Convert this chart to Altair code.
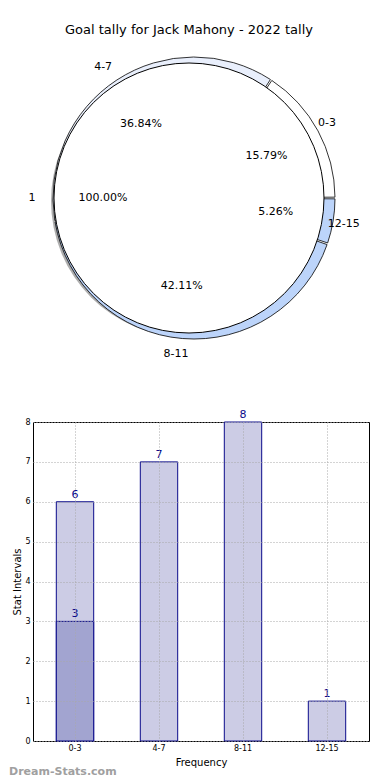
import math
import altair as alt
import pandas as pd

chart_title = "Goal tally for Jack Mahony - 2022 tally"

# Outer ring of the pie
intervals = ["0-3", "4-7", "8-11", "12-15"]
ring_values = [3, 7, 8, 1]
ring_colors = ["#ffffff", "#e9effc", "#bcd4fa", "#bcd4fa"]

# Inner pie
inner_labels = ["1"]
inner_values = [1]

# Bar chart
bar_totals = [6, 7, 8, 1]
bar_sub_labels = ["0-3"]
bar_sub_values = [3]

FONT = "DejaVu Sans"
NAVY = "#0a0a8a"

ring_total = sum(ring_values)
ring_df = pd.DataFrame({
    "interval": intervals,
    "value": ring_values,
    "ord": list(range(len(intervals)))[::-1],
    "pct": [f"{v / ring_total * 100:.2f}%" for v in ring_values],
})
inner_total = sum(inner_values)
inner_df = pd.DataFrame({
    "label": inner_labels,
    "value": inner_values,
    "pct": [f"{v / inner_total * 100:.2f}%" for v in inner_values],
})

theta_range = [math.pi / 2, math.pi / 2 + 2 * math.pi]

R_IN = 135
R_OUT = 141

inner_base = alt.Chart(inner_df).encode(
    theta=alt.Theta("value:Q", stack=True, scale=alt.Scale(range=theta_range)),
)
shadow = inner_base.mark_arc(outerRadius=R_IN + 1, fill="#777777", opacity=0.6, xOffset=-2, yOffset=3)
inner_arc = inner_base.mark_arc(outerRadius=R_IN, fill="white", stroke="black", strokeWidth=1)
inner_lbl = inner_base.mark_text(radius=157, fontSize=11, font=FONT, color="black").encode(text="label:N")
inner_pct = inner_base.mark_text(radius=86, fontSize=11, font=FONT, color="black").encode(text="pct:N")

ring_base = alt.Chart(ring_df).encode(
    theta=alt.Theta("value:Q", stack=True, scale=alt.Scale(range=theta_range)),
    order=alt.Order("ord:Q"),
)
ring_arc = ring_base.mark_arc(
    outerRadius=R_OUT, padAngle=0.012, xOffset=5,
    stroke="black", strokeWidth=0.8,
).encode(
    color=alt.Color("interval:N", scale=alt.Scale(domain=intervals, range=ring_colors), legend=None)
)
ring_lbl = ring_base.mark_text(radius=157, fontSize=11, font=FONT, color="black").encode(text="interval:N")
ring_pct = ring_base.mark_text(radius=88, fontSize=11, font=FONT, color="black").encode(text="pct:N")

pie = alt.layer(
    shadow, ring_arc, inner_arc, ring_lbl, ring_pct, inner_lbl, inner_pct
).resolve_scale(theta="independent").properties(
    width=312, height=314,
    title=alt.TitleParams(chart_title, fontSize=13, fontWeight="normal", font=FONT, anchor="middle", offset=4),
)

bar_df = pd.DataFrame({"interval": intervals, "value": bar_totals})
sub_df = pd.DataFrame({"interval": bar_sub_labels, "value": bar_sub_values})

grid_kw = dict(grid=True, gridDash=[1, 2], gridColor="#a8a8a8", gridWidth=1, domain=False,
               tickSize=0, zindex=1, labelFontSize=8, titleFontSize=10, labelOverlap=False)
xenc = alt.X(
    "interval:N", sort=intervals,
    scale=alt.Scale(domain=intervals, paddingInner=0.555, paddingOuter=0.2775),
    axis=alt.Axis(title="Frequency", labelAngle=0, labelPadding=3, titlePadding=5, **grid_kw),
)
yenc = alt.Y(
    "value:Q", scale=alt.Scale(domain=[0, 8], nice=False),
    axis=alt.Axis(title="Stat Intervals", values=list(range(0, 9)), labelPadding=3, titlePadding=2, **grid_kw),
)

bars = alt.Chart(bar_df).mark_bar(fill="#ccccE5", stroke=NAVY, strokeWidth=1).encode(x=xenc, y=yenc)
bars_txt = alt.Chart(bar_df).mark_text(baseline="bottom", dy=-2, fontSize=11, font=FONT, color=NAVY).encode(
    x=xenc, y=yenc, text="value:Q")
sub = alt.Chart(sub_df).mark_bar(fill="#a2a4d0", stroke=NAVY, strokeWidth=1).encode(x=xenc, y=yenc)
sub_txt = alt.Chart(sub_df).mark_text(baseline="bottom", dy=-2, fontSize=11, font=FONT, color=NAVY).encode(
    x=xenc, y=yenc, text="value:Q")
watermark = alt.Chart(pd.DataFrame({"t": ["Dream-Stats.com"]})).mark_text(
    align="left", baseline="middle", fontSize=11, fontWeight="bold", font=FONT, color="#a0a0a0"
).encode(x=alt.value(-24), y=alt.value(350), text="t:N")

bar_chart = alt.layer(bars, sub, bars_txt, sub_txt, watermark).properties(width=336, height=319)

chart = alt.vconcat(pie, bar_chart, spacing=48).properties(
    padding={"top": 16, "left": 0, "right": 0, "bottom": 0}
).configure(font=FONT).configure_view(stroke="black", strokeWidth=1).configure_axis(
    labelColor="black", titleColor="black", labelFont=FONT, titleFont=FONT, titleFontWeight="normal"
)

chart.save("out.html", embed_options={"renderer": "svg", "actions": False})
